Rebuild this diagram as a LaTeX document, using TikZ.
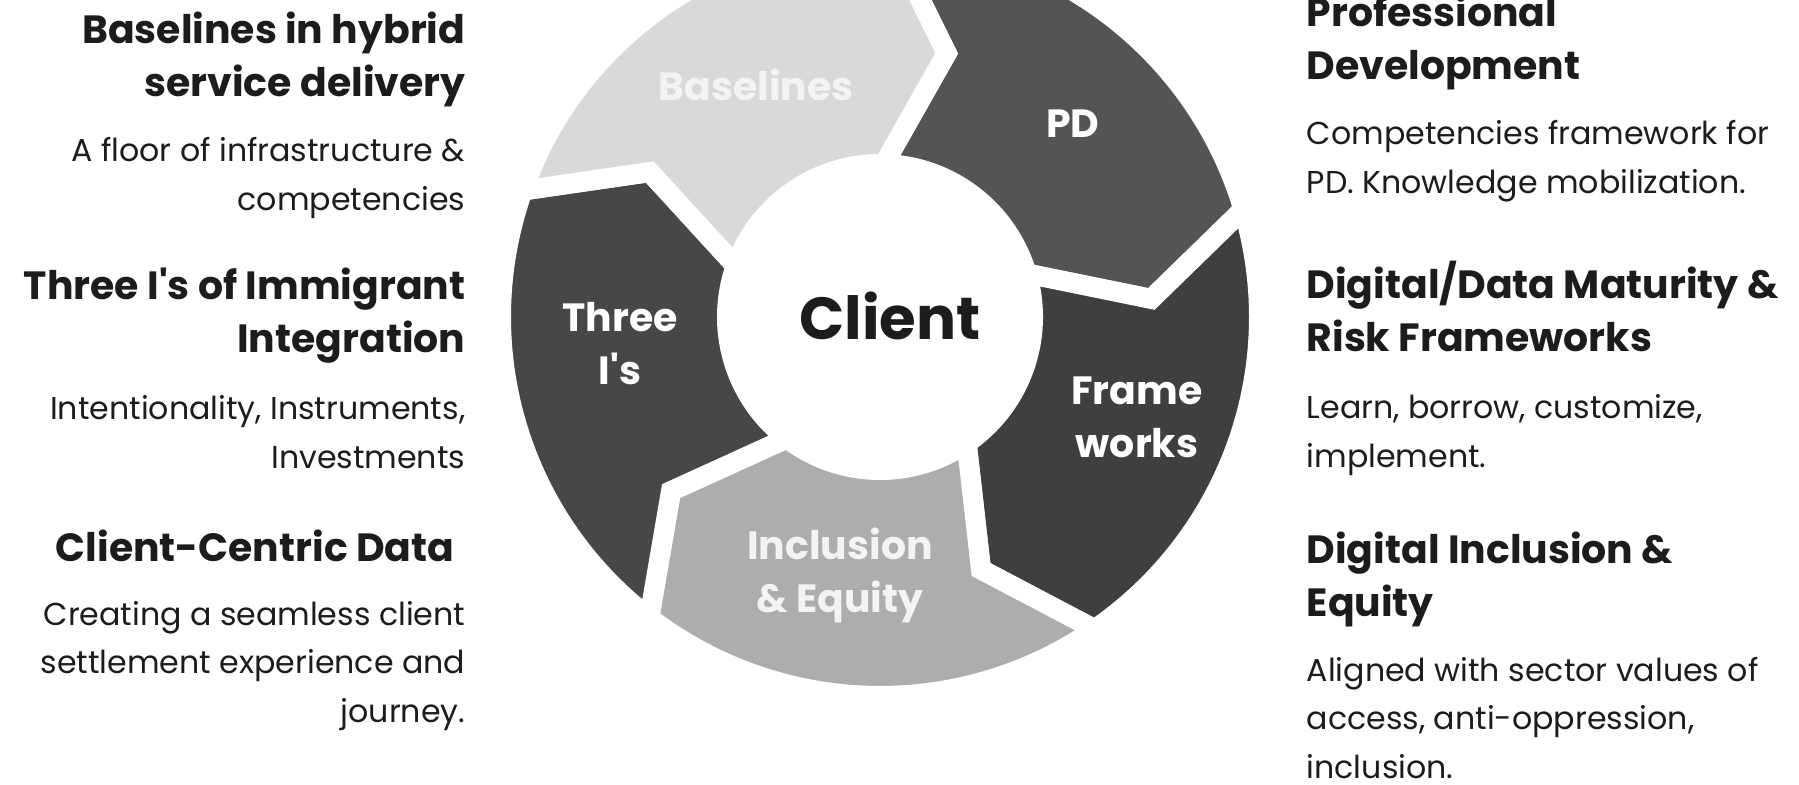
\documentclass[tikz,border=0pt]{standalone}
\usepackage{fontspec}
\setmainfont{Poppins}
\usetikzlibrary{positioning}

\definecolor{ink}{HTML}{1C1C1C}
\definecolor{bsgray}{HTML}{D9D9D9}
\definecolor{pdgray}{HTML}{545454}
\definecolor{fwgray}{HTML}{3F3F3F}
\definecolor{ingray}{HTML}{ADADAD}
\definecolor{tigray}{HTML}{474747}
\definecolor{paletext}{HTML}{F3F3F3}

\begin{document}
\begin{tikzpicture}[x=0.01cm, y=0.01cm,
    head/.style={font=\bfseries\fontsize{11.2}{15.1}\selectfont, text=ink, inner sep=0pt},
    body/.style={font=\fontsize{9.0}{13.8}\selectfont, text=ink, inner sep=0pt},
    seglabel/.style={font=\bfseries\fontsize{11.2}{15.1}\selectfont, text=white, align=center, inner sep=0pt, anchor=base}]
        \useasboundingbox (0,0) rectangle (1799,785);
        \clip (0,0) rectangle (1799,785);

        \def\ringout{379}
        \def\ringin{153}
        \def\ringmid{272}
        \def\tipshift{12.7}

        % Ring of arrow segments
        \coordinate (hub) at (880,468);
        \begin{scope}[shift={(hub)}]
        \foreach \s/\col in {88.5/pdgray, 16.5/fwgray, -55.5/ingray, -127.5/tigray, -199.5/bsgray}{
            \pgfmathsetmacro{\e}{\s-72}
            \path[fill=\col, draw=white, line width=0.2cm, line join=miter]
                (\s:\ringout) arc[start angle=\s, end angle=\e, radius=\ringout]
                -- (\e-\tipshift:\ringmid) -- (\e:\ringin)
                arc[start angle=\e, end angle=\s, radius=\ringin]
                -- (\s-\tipshift:\ringmid) -- cycle;
        }
        \end{scope}

        % Labels on the ring (base = last line)
        \node[font=\bfseries\fontsize{16.9}{20}\selectfont, text=ink, inner sep=0pt, anchor=base] (client) at (890,445) {Client};
        \node[seglabel, text=paletext] (lblbase) at (756,684) {Baselines};
        \node[seglabel] (lblpd) at (1073,647) {PD};
        \node[seglabel] (lblthree) at (620,400) {Three\\I\textquotesingle s};
        \node[seglabel] (lblframe) at (1137,327) {Frame\\works};
        \node[seglabel, text=paletext] (lblincl) at (840,172) {Inclusion\\\& Equity};

        % Left column
        \node[head, align=right, anchor=base east] (hybrid) at (466,688) {Baselines in hybrid\\service delivery};
        \node[body, align=right, anchor=base east] (floor) at ([yshift=-1.13cm]hybrid.base east) {A floor of infrastructure \&\\competencies};
        \node[head, align=right, anchor=base east] (threei) at (466,432) {Three I\textquotesingle s of Immigrant\\Integration};
        \node[body, align=right, anchor=base east] (intent) at ([yshift=-1.15cm]threei.base east) {Intentionality, Instruments,\\Investments};
        \node[head, align=right, anchor=base east] (ccdata) at (455,223) {Client-Centric Data};
        \node[body, align=right, anchor=base east] (seamless) at ([xshift=0.11cm, yshift=-1.60cm]ccdata.base east) {Creating a seamless client\\settlement experience and\\journey.};

        % Right column
        \node[head, align=left, anchor=base west] (profdev) at (1306,705) {Professional\\Development};
        \node[body, align=left, anchor=base west] (compfw) at ([yshift=-1.13cm]profdev.base west) {Competencies framework for\\PD. Knowledge mobilization.};
        \node[head, align=left, anchor=base west] (maturity) at (1306,433) {Digital/Data Maturity \&\\Risk Frameworks};
        \node[body, align=left, anchor=base west] (learn) at ([yshift=-1.15cm]maturity.base west) {Learn, borrow, customize,\\implement.};
        \node[head, align=left, anchor=base west] (diginc) at (1306,168) {Digital Inclusion \&\\Equity};
        \node[body, align=left, anchor=base west] (aligned) at ([yshift=-1.61cm]diginc.base west) {Aligned with sector values of\\access, anti-oppression,\\inclusion.};
\end{tikzpicture}
\end{document}
